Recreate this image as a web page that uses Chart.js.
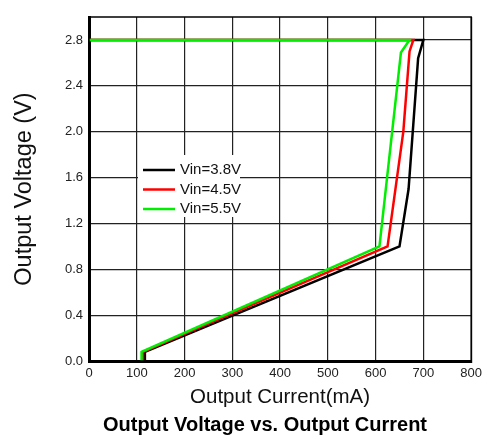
<!DOCTYPE html>
<html>
<head>
<meta charset="utf-8">
<title>Output Voltage vs. Output Current</title>
<script src="https://cdn.jsdelivr.net/npm/chart.js@4.4.1/dist/chart.umd.min.js"></script>
<style>
  html, body { margin: 0; padding: 0; background: #fff; }
  #wrap { width: 487px; height: 438px; }
</style>
</head>
<body>
<div id="wrap"><canvas id="ivChart"></canvas></div>
<script>
// load curves, current in mA / voltage in V
const seriesLabels = ['Vin=3.8V', 'Vin=4.5V', 'Vin=5.5V'];
const seriesColors = ['#000000', '#ff0000', '#00ee00'];

const vin38Current = [117, 117, 650, 669, 689, 700, 0];
const vin38Voltage = [0.0, 0.08, 1.0, 1.5, 2.64, 2.8, 2.8];

const vin45Current = [113, 113, 625, 658, 671, 679, 0];
const vin45Voltage = [0.0, 0.08, 1.0, 2.0, 2.70, 2.8, 2.8];

const vin55Current = [110, 110, 608, 653, 671, 0];
const vin55Voltage = [0.0, 0.08, 1.0, 2.69, 2.8, 2.8];

const xTicks = [0, 100, 200, 300, 400, 500, 600, 700, 800];
const yTicks = [0.0, 0.4, 0.8, 1.2, 1.6, 2.0, 2.4, 2.8];

function toPoints(xs, ys) {
    return xs.map((x, i) => ({ x: x, y: ys[i] }));
}

const curves = [
    toPoints(vin38Current, vin38Voltage),
    toPoints(vin45Current, vin45Voltage),
    toPoints(vin55Current, vin55Voltage)
];

// frame, legend box and bottom caption
const framePlugin = {
    id: 'framePlugin',
    afterDraw(chart) {
        const { ctx, chartArea } = chart;
        ctx.save();

        // outer box (top and right edges)
        ctx.strokeStyle = '#000';
        ctx.lineWidth = 1.5;
        ctx.strokeRect(chartArea.left, chartArea.top, chartArea.right - chartArea.left, chartArea.bottom - chartArea.top);

        // legend inside the plot
        const lx = chartArea.left + 49;
        const ly = chartArea.top + 138;
        ctx.fillStyle = '#fff';
        ctx.fillRect(lx, ly, 102, 62);
        ctx.font = '15px "Liberation Sans", Arial, sans-serif';
        ctx.textBaseline = 'middle';
        chart.data.datasets.forEach((ds, i) => {
            const y = ly + 15 + i * 19.5;
            ctx.strokeStyle = ds.borderColor;
            ctx.lineWidth = 2.5;
            ctx.beginPath();
            ctx.moveTo(lx + 5, y);
            ctx.lineTo(lx + 37, y);
            ctx.stroke();
            ctx.fillStyle = '#111';
            ctx.textAlign = 'left';
            ctx.fillText(ds.label, lx + 42, y);
        });

        // caption under the x axis title
        ctx.fillStyle = '#000';
        ctx.font = 'bold 20px "Liberation Sans", Arial, sans-serif';
        ctx.textAlign = 'center';
        ctx.textBaseline = 'alphabetic';
        ctx.fillText('Output Voltage vs. Output Current', 265, 431);
        ctx.restore();
    }
};

const ctx = document.getElementById('ivChart').getContext('2d');
const chart = new Chart(ctx, {
    type: 'scatter',
    data: {
        datasets: curves.map((pts, i) => ({
            label: seriesLabels[i],
            data: pts,
            showLine: true,
            borderColor: seriesColors[i],
            backgroundColor: seriesColors[i],
            borderWidth: 2.5,
            pointRadius: 0,
            tension: 0,
            order: 3 - i
        }))
    },
    options: {
        responsive: true,
        maintainAspectRatio: false,
        animation: false,
        layout: { padding: { left: 0, top: 17, right: 12, bottom: 0 } },
        plugins: {
            legend: { display: false },
            tooltip: { enabled: false }
        },
        scales: {
            x: {
                type: 'linear',
                min: 0,
                max: 800,
                afterBuildTicks: (scale) => { scale.ticks = xTicks.map(v => ({ value: v })); },
                afterFit: (scale) => { scale.height = 77; },
                ticks: {
                    color: '#222',
                    font: { size: 13, family: '"Liberation Sans", Arial, sans-serif' },
                    padding: 5,
                    maxRotation: 0
                },
                grid: { color: '#222', lineWidth: 1.2, drawTicks: false },
                border: { color: '#000', width: 3 },
                title: {
                    display: true,
                    text: 'Output Current(mA)',
                    color: '#111',
                    font: { size: 20.5, family: '"Liberation Sans", Arial, sans-serif' },
                    padding: { top: 0, bottom: 28 }
                }
            },
            y: {
                type: 'linear',
                min: 0,
                max: 3.0,
                afterBuildTicks: (scale) => { scale.ticks = yTicks.map(v => ({ value: v })); },
                afterFit: (scale) => { scale.width = 89; },
                ticks: {
                    color: '#222',
                    font: { size: 13, family: '"Liberation Sans", Arial, sans-serif' },
                    padding: 6,
                    callback: (v) => Number(v).toFixed(1)
                },
                grid: { color: '#222', lineWidth: 1.2, drawTicks: false },
                border: { color: '#000', width: 3 },
                title: {
                    display: true,
                    text: 'Output Voltage (V)',
                    color: '#111',
                    font: { size: 23.5, family: '"Liberation Sans", Arial, sans-serif' },
                    padding: { top: 10, bottom: 0 }
                }
            }
        }
    },
    plugins: [framePlugin]
});
</script>
</body>
</html>
